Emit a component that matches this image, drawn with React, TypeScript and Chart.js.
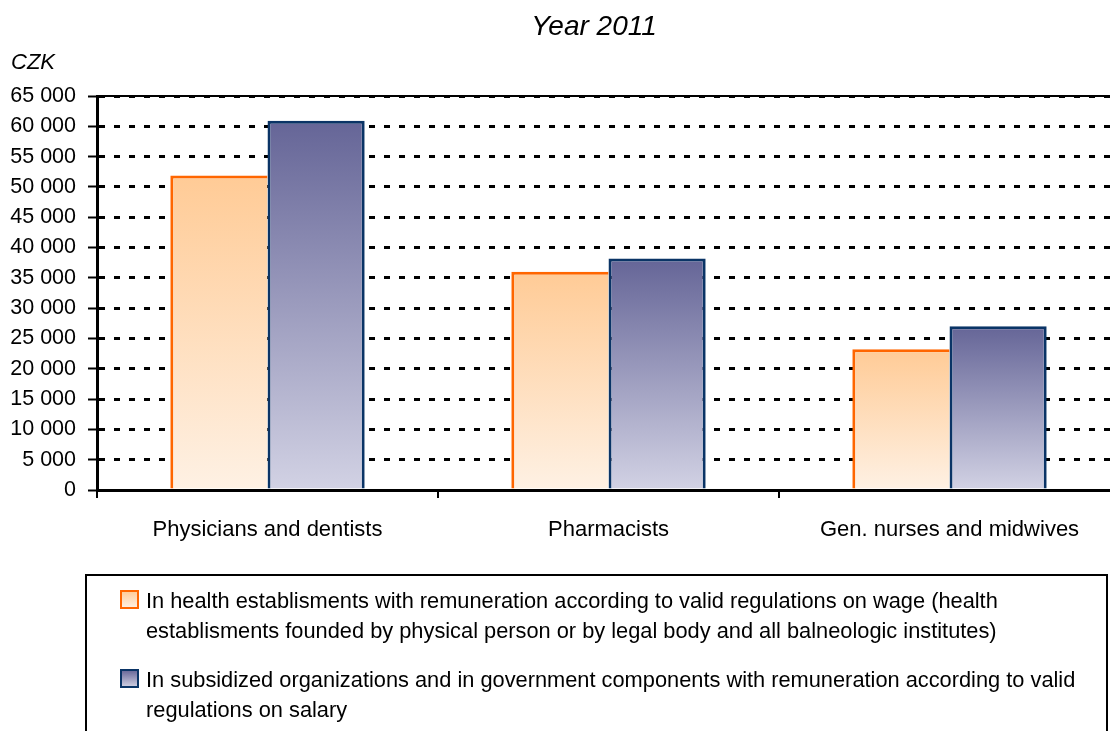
import React, { useEffect, useRef } from 'react';
import { Chart, registerables } from 'chart.js';

Chart.register(...registerables);

const categories = ['Physicians and dentists', 'Pharmacists', 'Gen. nurses and midwives'];
const wageValues = [51900, 36000, 23200];
const salaryValues = [60900, 38200, 27000];
const seriesLabels = [
  'In health establisments with remuneration according to valid regulations on wage (health establisments founded by physical person or by legal body and all balneologic institutes)',
  'In subsidized organizations and in government components with remuneration according to valid regulations on salary',
];
const titleText = 'Year 2011';
const unitText = 'CZK';
const yMin = 0;
const yMax = 65000;
const yStep = 5000;

const FONT = '"Liberation Sans", Arial, sans-serif';
const ORANGE = { top: '#FFCB96', bottom: '#FEF1E4', border: '#FF6600' };
const BLUE = { top: '#656597', bottom: '#D2D2E4', border: '#0A3466' };

function formatThousands(v: number): string {
  return String(v).replace(/\B(?=(\d{3})+(?!\d))/g, ' ');
}

function barGradient(c: { top: string; bottom: string }) {
  return (ctx: any) => {
    const chart = ctx.chart;
    const yScale = chart.scales && chart.scales.y;
    if (!chart.chartArea || !yScale || ctx.type !== 'data') return c.top;
    const v = ctx.raw as number;
    const y0 = yScale.getPixelForValue(v);
    const y1 = yScale.getPixelForValue(0);
    const g = chart.ctx.createLinearGradient(0, y0, 0, y1);
    g.addColorStop(0, c.top);
    g.addColorStop(1, c.bottom);
    return g;
  };
}

function wrapText(ctx: CanvasRenderingContext2D, text: string, maxWidth: number): string[] {
  const words = text.split(' ');
  const lines: string[] = [];
  let cur = '';
  for (const w of words) {
    const test = cur ? cur + ' ' + w : w;
    if (ctx.measureText(test).width > maxWidth && cur) {
      lines.push(cur);
      cur = w;
    } else {
      cur = test;
    }
  }
  if (cur) lines.push(cur);
  return lines;
}

const decorPlugin = {
  id: 'decor',
  afterDraw(chart: any) {
    const { ctx, chartArea } = chart;
    ctx.save();
    // top frame line
    ctx.strokeStyle = '#000';
    ctx.lineWidth = 2;
    ctx.setLineDash([]);
    ctx.beginPath();
    ctx.moveTo(chartArea.left, chartArea.top);
    ctx.lineTo(chartArea.right, chartArea.top);
    ctx.stroke();

    // title
    ctx.fillStyle = '#000';
    ctx.font = `italic 28px ${FONT}`;
    ctx.textAlign = 'center';
    ctx.textBaseline = 'middle';
    ctx.fillText(titleText, 594, 27);

    // unit label
    ctx.font = `italic 22px ${FONT}`;
    ctx.textAlign = 'left';
    ctx.fillText(unitText, 11, 63);

    // legend box
    const lx = 86, ly = 575, lr = 1107, lb = 760;
    ctx.lineWidth = 2;
    ctx.strokeStyle = '#000';
    ctx.strokeRect(lx, ly, lr - lx, lb - ly);

    ctx.font = `21.8px ${FONT}`;
    ctx.textBaseline = 'alphabetic';
    const colors = [ORANGE, BLUE];
    let baseline = 608;
    chart.data.datasets.forEach((ds: any, i: number) => {
      const lines = wrapText(ctx, ds.label, lr - 146 - 6);
      const c = colors[i];
      const sx = 121, sy = baseline - 17, ss = 17;
      const g = ctx.createLinearGradient(0, sy, 0, sy + ss);
      g.addColorStop(0, c.top);
      g.addColorStop(1, c.bottom);
      ctx.fillStyle = g;
      ctx.fillRect(sx, sy, ss, ss);
      ctx.strokeStyle = c.border;
      ctx.lineWidth = 2;
      ctx.strokeRect(sx, sy, ss, ss);
      ctx.fillStyle = '#000';
      lines.forEach((ln, j) => ctx.fillText(ln, 146, baseline + j * 30));
      baseline += (lines.length - 1) * 30 + 49;
    });
    ctx.restore();
  },
};

export default function App() {
  const canvasRef = useRef<HTMLCanvasElement | null>(null);

  useEffect(() => {
    if (!canvasRef.current) return;
    Chart.defaults.color = '#000';
    const chart = new Chart(canvasRef.current, {
      type: 'bar',
      data: {
        labels: categories,
        datasets: [
          {
            label: seriesLabels[0],
            data: wageValues,
            backgroundColor: barGradient(ORANGE) as any,
            borderColor: ORANGE.border,
            borderWidth: { left: 3, top: 3, right: 0, bottom: 0 } as any,
            borderSkipped: false as any,
            categoryPercentage: 0.57,
            barPercentage: 1,
          },
          {
            label: seriesLabels[1],
            data: salaryValues,
            backgroundColor: barGradient(BLUE) as any,
            borderColor: BLUE.border,
            borderWidth: { left: 3, top: 3, right: 3, bottom: 0 } as any,
            borderSkipped: false as any,
            categoryPercentage: 0.57,
            barPercentage: 1,
          },
        ],
      },
      options: {
        responsive: false,
        animation: false,
        layout: { padding: { top: 96, right: 10, bottom: 0, left: 0 } },
        plugins: {
          legend: { display: false },
          title: { display: false },
          tooltip: { enabled: false },
        },
        scales: {
          x: {
            afterFit: (s: any) => { s.height = 241; },
            grid: {
              display: true,
              drawOnChartArea: false,
              drawTicks: true,
              tickLength: 8,
              color: '#000',
              lineWidth: 2,
              offset: true,
            },
            border: { display: true, color: '#000', width: 3 },
            ticks: {
              color: '#000',
              font: { family: FONT, size: 22 },
              padding: 19,
              maxRotation: 0,
              autoSkip: false,
            },
          },
          y: {
            min: yMin,
            max: yMax,
            afterFit: (s: any) => { s.width = 97; },
            grid: {
              color: '#000',
              lineWidth: 3,
              tickLength: 9,
              tickWidth: 2,
              drawTicks: true,
              tickBorderDash: [],
            } as any,
            border: { display: true, color: '#000', width: 3, dash: [6, 9] },
            ticks: {
              stepSize: yStep,
              color: '#000',
              font: { family: FONT, size: 21.5 },
              padding: 12,
              callback: (v: any) => formatThousands(Number(v)),
            },
          },
        },
      },
      plugins: [decorPlugin],
    });
    return () => chart.destroy();
  }, []);

  return (
    <div style={{ position: 'fixed', left: 0, top: 0, width: 1110, height: 731, overflow: 'hidden', background: '#fff' }}>
      <canvas ref={canvasRef} width={1130} height={731} style={{ display: 'block', width: 1130, height: 731 }} />
    </div>
  );
}
